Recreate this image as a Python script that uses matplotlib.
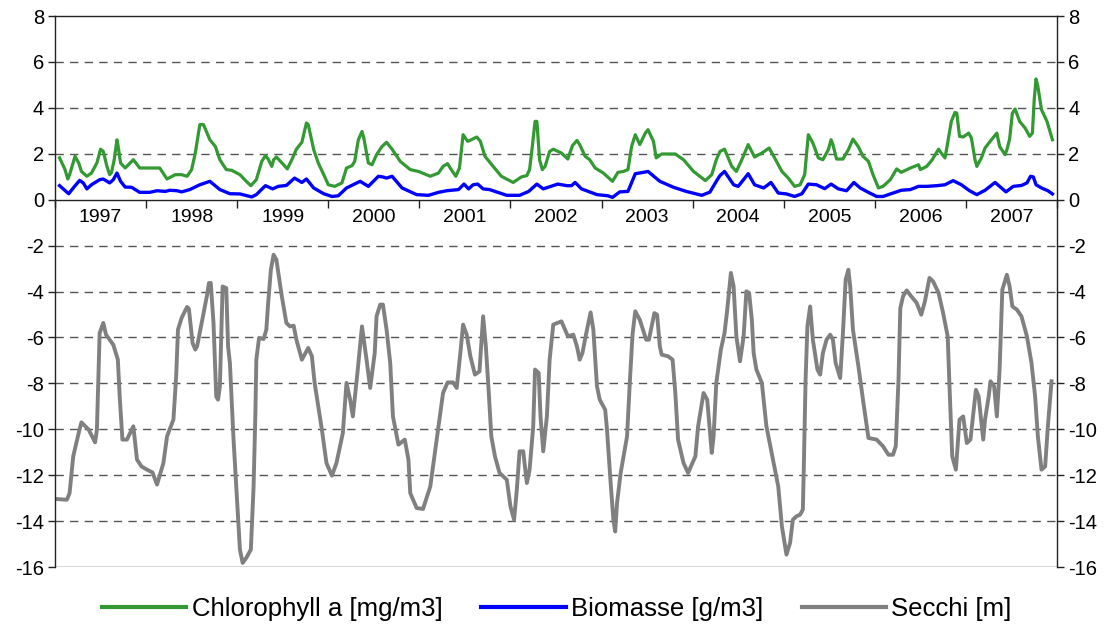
import matplotlib
matplotlib.use("Agg")
import matplotlib.pyplot as plt
from matplotlib.ticker import FixedLocator, NullFormatter

plt.rcParams['font.family'] = ['Liberation Sans', 'DejaVu Sans']

# Chlorophyll a [mg/m3]
chl_t = [1997.05, 1997.11, 1997.14, 1997.16, 1997.22, 1997.26, 1997.29, 1997.35, 1997.40, 1997.46,
         1997.50, 1997.53, 1997.57, 1997.60, 1997.62, 1997.65, 1997.68, 1997.69, 1997.72, 1997.77,
         1997.86, 1997.93, 1998.15, 1998.23, 1998.32, 1998.39, 1998.45, 1998.50, 1998.54, 1998.59,
         1998.63, 1998.70, 1998.76, 1998.81, 1998.88, 1998.94, 1999.03, 1999.10, 1999.15, 1999.21,
         1999.27, 1999.31, 1999.34, 1999.38, 1999.40, 1999.43, 1999.51, 1999.55, 1999.60, 1999.65,
         1999.71, 1999.76, 1999.78, 1999.84, 1999.89, 1999.95, 2000.00, 2000.07, 2000.15, 2000.20,
         2000.26, 2000.29, 2000.33, 2000.37, 2000.39, 2000.44, 2000.48, 2000.53, 2000.59, 2000.64,
         2000.70, 2000.79, 2000.90, 2000.99, 2001.12, 2001.21, 2001.26, 2001.31, 2001.35, 2001.40,
         2001.44, 2001.48, 2001.53, 2001.57, 2001.63, 2001.67, 2001.72, 2001.81, 2001.90, 2002.03,
         2002.12, 2002.18, 2002.21, 2002.24, 2002.27, 2002.29, 2002.32, 2002.35, 2002.38, 2002.43,
         2002.47, 2002.56, 2002.63, 2002.68, 2002.73, 2002.76, 2002.82, 2002.87, 2002.93, 2003.02,
         2003.12, 2003.18, 2003.24, 2003.29, 2003.33, 2003.37, 2003.42, 2003.48, 2003.51, 2003.57,
         2003.60, 2003.66, 2003.81, 2003.90, 2004.01, 2004.14, 2004.21, 2004.26, 2004.30, 2004.35,
         2004.43, 2004.48, 2004.54, 2004.61, 2004.68, 2004.76, 2004.84, 2004.90, 2004.98, 2005.05,
         2005.12, 2005.18, 2005.23, 2005.27, 2005.32, 2005.38, 2005.43, 2005.49, 2005.52, 2005.54,
         2005.58, 2005.65, 2005.71, 2005.76, 2005.82, 2005.87, 2005.93, 2005.98, 2006.04, 2006.09,
         2006.17, 2006.24, 2006.29, 2006.39, 2006.48, 2006.50, 2006.57, 2006.63, 2006.70, 2006.73,
         2006.77, 2006.79, 2006.84, 2006.88, 2006.90, 2006.93, 2006.97, 2007.03, 2007.06, 2007.10,
         2007.12, 2007.17, 2007.21, 2007.28, 2007.34, 2007.37, 2007.43, 2007.45, 2007.48, 2007.51,
         2007.54, 2007.59, 2007.65, 2007.70, 2007.73, 2007.75, 2007.77, 2007.79, 2007.83, 2007.89,
         2007.95]
chl_v = [1.82, 1.31, 0.90, 1.09, 1.89, 1.60, 1.23, 1.02, 1.16, 1.60,
         2.20, 2.10, 1.45, 1.09, 1.18, 1.74, 2.61, 2.40, 1.60, 1.38,
         1.74, 1.38, 1.38, 0.90, 1.09, 1.09, 1.02, 1.31, 2.03, 3.27,
         3.27, 2.61, 2.32, 1.74, 1.31, 1.28, 1.09, 0.80, 0.61, 0.87,
         1.67, 1.92, 1.77, 1.45, 1.74, 1.86, 1.52, 1.34, 1.74, 2.20,
         2.50, 3.34, 3.27, 2.18, 1.60, 1.09, 0.65, 0.58, 0.73, 1.38,
         1.48, 1.67, 2.61, 2.97, 2.69, 1.60, 1.52, 1.96, 2.32, 2.50,
         2.20, 1.67, 1.31, 1.23, 1.02, 1.16, 1.45, 1.57, 1.31, 1.02,
         1.38, 2.83, 2.54, 2.61, 2.73, 2.54, 1.89, 1.45, 1.02, 0.75,
         0.99, 1.05, 1.31, 2.32, 3.41, 3.41, 1.74, 1.31, 1.45, 2.10,
         2.20, 2.03, 1.77, 2.35, 2.58, 2.40, 1.89, 1.74, 1.38, 1.16,
         0.80, 1.19, 1.23, 1.31, 2.32, 2.83, 2.40, 2.90, 3.05, 2.54,
         1.82, 1.99, 1.99, 1.74, 1.23, 0.83, 1.09, 1.74, 2.10, 2.20,
         1.45, 1.23, 1.74, 2.40, 1.86, 2.03, 2.25, 1.82, 1.23, 0.94,
         0.58, 0.65, 1.09, 2.83, 2.47, 1.82, 1.74, 2.18, 2.61, 2.40,
         1.77, 1.77, 2.18, 2.64, 2.30, 1.89, 1.67, 1.09, 0.51, 0.58,
         0.87, 1.34, 1.19, 1.38, 1.52, 1.31, 1.45, 1.74, 2.20, 2.03,
         1.82, 2.25, 3.41, 3.80, 3.77, 2.76, 2.73, 2.90, 2.69, 1.74,
         1.45, 1.82, 2.25, 2.61, 2.90, 2.32, 1.96, 2.18, 2.64, 3.77,
         3.95, 3.41, 3.12, 2.76, 2.90, 4.36, 5.26, 4.93, 3.92, 3.41,
         2.61]

# Biomasse [g/m3]
bio_t = [1997.05, 1997.15, 1997.20, 1997.27, 1997.31, 1997.35, 1997.40, 1997.49, 1997.53, 1997.60,
         1997.64, 1997.68, 1997.72, 1997.77, 1997.84, 1997.93, 1998.04, 1998.12, 1998.21, 1998.26,
         1998.34, 1998.39, 1998.48, 1998.59, 1998.70, 1998.81, 1998.92, 1999.03, 1999.16, 1999.21,
         1999.31, 1999.39, 1999.45, 1999.54, 1999.63, 1999.71, 1999.76, 1999.84, 1999.95, 2000.04,
         2000.11, 2000.20, 2000.35, 2000.44, 2000.55, 2000.60, 2000.64, 2000.70, 2000.81, 2000.97,
         2001.10, 2001.21, 2001.30, 2001.43, 2001.49, 2001.54, 2001.59, 2001.64, 2001.70, 2001.77,
         2001.96, 2002.10, 2002.20, 2002.29, 2002.36, 2002.52, 2002.62, 2002.67, 2002.71, 2002.78,
         2002.95, 2003.07, 2003.12, 2003.20, 2003.29, 2003.37, 2003.46, 2003.51, 2003.64, 2003.79,
         2003.93, 2004.10, 2004.19, 2004.26, 2004.30, 2004.35, 2004.45, 2004.50, 2004.61, 2004.68,
         2004.78, 2004.86, 2004.94, 2005.03, 2005.12, 2005.20, 2005.27, 2005.36, 2005.45, 2005.52,
         2005.60, 2005.69, 2005.77, 2005.84, 2005.91, 2006.02, 2006.09, 2006.20, 2006.29, 2006.39,
         2006.48, 2006.57, 2006.68, 2006.77, 2006.86, 2006.95, 2007.04, 2007.12, 2007.21, 2007.32,
         2007.37, 2007.44, 2007.52, 2007.61, 2007.67, 2007.71, 2007.74, 2007.77, 2007.83, 2007.90,
         2007.95]
bio_v = [0.61, 0.26, 0.51, 0.84, 0.73, 0.47, 0.65, 0.87, 0.90, 0.73,
         0.87, 1.16, 0.80, 0.55, 0.54, 0.32, 0.32, 0.39, 0.36, 0.41,
         0.39, 0.34, 0.44, 0.65, 0.80, 0.44, 0.26, 0.25, 0.12, 0.22,
         0.61, 0.47, 0.58, 0.62, 0.94, 0.75, 0.90, 0.51, 0.26, 0.14,
         0.17, 0.51, 0.80, 0.58, 1.02, 0.99, 0.94, 1.02, 0.51, 0.22,
         0.19, 0.32, 0.39, 0.44, 0.68, 0.47, 0.65, 0.68, 0.47, 0.44,
         0.19, 0.19, 0.36, 0.68, 0.47, 0.68, 0.61, 0.61, 0.75, 0.47,
         0.22, 0.17, 0.10, 0.34, 0.36, 1.13, 1.19, 1.23, 0.80, 0.54,
         0.36, 0.19, 0.33, 0.80, 1.05, 1.23, 0.65, 0.58, 1.13, 0.65,
         0.51, 0.75, 0.29, 0.25, 0.14, 0.26, 0.68, 0.65, 0.48, 0.68,
         0.47, 0.39, 0.75, 0.51, 0.36, 0.14, 0.14, 0.29, 0.41, 0.44,
         0.58, 0.58, 0.61, 0.65, 0.83, 0.65, 0.39, 0.22, 0.41, 0.75,
         0.58, 0.34, 0.58, 0.62, 0.73, 1.02, 0.99, 0.65, 0.51, 0.39,
         0.25]

# Secchi [m] (plotted as negative depth)
sec_t = [1997.02, 1997.13, 1997.16, 1997.20, 1997.26, 1997.29, 1997.37, 1997.44, 1997.46, 1997.48,
         1997.49, 1997.53, 1997.56, 1997.64, 1997.69, 1997.71, 1997.74, 1997.79, 1997.86, 1997.90,
         1997.95, 1998.01, 1998.07, 1998.12, 1998.19, 1998.23, 1998.30, 1998.33, 1998.35, 1998.39,
         1998.45, 1998.47, 1998.51, 1998.54, 1998.56, 1998.61, 1998.67, 1998.69, 1998.71, 1998.74,
         1998.77, 1998.79, 1998.81, 1998.84, 1998.88, 1998.90, 1998.92, 1998.96, 1999.00, 1999.03,
         1999.06, 1999.10, 1999.15, 1999.18, 1999.20, 1999.21, 1999.24, 1999.29, 1999.32, 1999.34,
         1999.37, 1999.40, 1999.43, 1999.49, 1999.54, 1999.58, 1999.62, 1999.65, 1999.71, 1999.78,
         1999.82, 1999.85, 1999.93, 1999.98, 2000.04, 2000.09, 2000.16, 2000.20, 2000.24, 2000.27,
         2000.32, 2000.37, 2000.38, 2000.42, 2000.46, 2000.51, 2000.53, 2000.57, 2000.60, 2000.64,
         2000.68, 2000.71, 2000.77, 2000.84, 2000.88, 2000.90, 2000.97, 2001.04, 2001.12, 2001.21,
         2001.26, 2001.31, 2001.37, 2001.41, 2001.45, 2001.48, 2001.52, 2001.56, 2001.61, 2001.66,
         2001.70, 2001.73, 2001.76, 2001.79, 2001.83, 2001.88, 2001.96, 2002.00, 2002.04, 2002.07,
         2002.10, 2002.14, 2002.18, 2002.21, 2002.25, 2002.27, 2002.31, 2002.33, 2002.36, 2002.40,
         2002.43, 2002.47, 2002.56, 2002.63, 2002.69, 2002.73, 2002.76, 2002.79, 2002.84, 2002.88,
         2002.91, 2002.95, 2002.98, 2003.04, 2003.06, 2003.10, 2003.13, 2003.15, 2003.17, 2003.21,
         2003.28, 2003.31, 2003.34, 2003.37, 2003.42, 2003.49, 2003.52, 2003.58, 2003.61, 2003.64,
         2003.66, 2003.73, 2003.78, 2003.81, 2003.84, 2003.90, 2003.95, 2004.03, 2004.06, 2004.12,
         2004.16, 2004.21, 2004.23, 2004.26, 2004.31, 2004.35, 2004.38, 2004.42, 2004.45, 2004.48,
         2004.52, 2004.56, 2004.59, 2004.62, 2004.65, 2004.67, 2004.70, 2004.76, 2004.81, 2004.89,
         2004.94, 2004.98, 2005.03, 2005.07, 2005.10, 2005.14, 2005.18, 2005.21, 2005.22, 2005.24,
         2005.26, 2005.29, 2005.32, 2005.37, 2005.40, 2005.43, 2005.47, 2005.51, 2005.54, 2005.57,
         2005.62, 2005.65, 2005.68, 2005.71, 2005.73, 2005.76, 2005.82, 2005.87, 2005.93, 2006.02,
         2006.09, 2006.15, 2006.20, 2006.23, 2006.26, 2006.28, 2006.31, 2006.35, 2006.40, 2006.46,
         2006.51, 2006.55, 2006.60, 2006.64, 2006.70, 2006.75, 2006.80, 2006.82, 2006.85, 2006.89,
         2006.93, 2006.97, 2007.01, 2007.05, 2007.11, 2007.14, 2007.19, 2007.21, 2007.25, 2007.27,
         2007.31, 2007.34, 2007.37, 2007.40, 2007.45, 2007.48, 2007.51, 2007.56, 2007.61, 2007.67,
         2007.72, 2007.76, 2007.79, 2007.83, 2007.87, 2007.90, 2007.94]
sec_v = [-13.04, -13.07, -12.78, -11.18, -10.16, -9.70, -10.02, -10.57, -10.02, -7.11,
         -5.81, -5.37, -5.88, -6.32, -6.97, -8.57, -10.45, -10.45, -9.87, -11.32,
         -11.62, -11.76, -11.88, -12.41, -11.47, -10.31, -9.58, -7.70, -5.66, -5.15,
         -4.67, -4.76, -6.24, -6.53, -6.39, -5.37, -4.14, -3.63, -3.63, -5.37,
         -8.57, -8.71, -8.13, -3.78, -3.85, -6.39, -7.11, -10.45, -13.21, -15.24,
         -15.82, -15.60, -15.24, -12.49, -9.29, -6.97, -6.02, -6.07, -5.66, -4.50,
         -3.05, -2.40, -2.61, -4.21, -5.37, -5.52, -5.49, -6.10, -6.97, -6.46,
         -6.82, -7.98, -10.02, -11.47, -12.02, -11.47, -10.16, -7.98, -8.71, -9.44,
         -7.55, -5.52, -5.81, -6.97, -8.20, -6.68, -5.08, -4.57, -4.57, -5.66,
         -7.11, -9.44, -10.67, -10.45, -11.32, -12.78, -13.43, -13.47, -12.49, -9.87,
         -8.42, -7.96, -7.96, -8.20, -6.68, -5.44, -5.88, -6.82, -7.62, -7.48,
         -5.08, -6.39, -8.28, -10.31, -11.18, -11.90, -12.20, -13.36, -13.94, -12.63,
         -10.96, -10.96, -12.34, -11.76, -9.87, -7.40, -7.55, -9.44, -10.96, -9.44,
         -6.97, -5.44, -5.30, -5.95, -5.88, -6.39, -6.97, -6.68, -5.66, -4.91,
         -5.66, -8.13, -8.71, -9.15, -10.02, -12.34, -13.94, -14.45, -13.21, -11.90,
         -10.31, -7.98, -5.88, -4.86, -5.23, -6.10, -6.10, -4.94, -5.01, -6.39,
         -6.75, -6.82, -6.97, -8.42, -10.45, -11.47, -11.90, -11.18, -9.87, -8.42,
         -8.71, -11.03, -10.31, -7.98, -6.53, -5.81, -4.79, -3.19, -3.78, -5.95,
         -7.04, -5.95, -3.99, -4.06, -5.23, -6.68, -7.40, -7.98, -9.87, -11.47,
         -12.49, -14.23, -15.46, -14.95, -13.94, -13.79, -13.72, -13.50, -11.76, -7.84,
         -5.52, -4.65, -6.10, -7.40, -7.62, -6.68, -6.10, -5.88, -6.10, -7.11,
         -7.77, -5.81, -3.48, -3.05, -3.78, -5.66, -7.26, -8.71, -10.38, -10.45,
         -10.74, -11.11, -11.11, -10.74, -7.84, -4.72, -4.21, -3.95, -4.21, -4.50,
         -5.01, -4.43, -3.41, -3.56, -4.06, -4.94, -5.95, -8.13, -11.18, -11.76,
         -9.58, -9.44, -10.60, -10.45, -8.28, -8.57, -10.45, -9.58, -8.57, -7.91,
         -8.13, -9.44, -7.40, -3.92, -3.27, -3.78, -4.65, -4.79, -5.08, -5.95,
         -7.11, -8.57, -10.31, -11.76, -11.62, -9.87, -7.91]

years = list(range(1997, 2008))
y_ticks = list(range(-16, 9, 2))

fig = plt.figure(figsize=(11.09, 6.28), dpi=100)
ax = fig.add_axes([0.0496, 0.0971, 0.9035, 0.8774])

ax.plot(chl_t, chl_v, color='#339933', lw=2.3, label='Chlorophyll a [mg/m3]', solid_joinstyle='round')
ax.plot(bio_t, bio_v, color='#0000ff', lw=2.4, label='Biomasse [g/m3]', solid_joinstyle='round')
ax.plot(sec_t, sec_v, color='#808080', lw=2.8, label='Secchi [m]', solid_joinstyle='round')

ax.set_xlim(1997, 2008)
ax.set_ylim(-16, 8)

# horizontal dashed grid
for v in y_ticks:
    if v in (-16, 0, 8):
        continue
    ax.axhline(v, color='#555555', lw=1.0, ls=(0, (6, 4.5)), zorder=0)
ax.axhline(-16, color='#333333', lw=1.0, zorder=0)

# time axis drawn through zero
ax.spines['bottom'].set_position(('data', 0))
for s in ('left', 'right', 'top', 'bottom'):
    ax.spines[s].set_color('#222222')
    ax.spines[s].set_linewidth(1.0)

ax.xaxis.set_major_locator(FixedLocator(list(range(1997, 2009))))
ax.xaxis.set_major_formatter(NullFormatter())
ax.xaxis.set_minor_locator(FixedLocator([y + 0.5 for y in years]))
ax.set_xticklabels([str(y) for y in years], minor=True)
ax.tick_params(axis='x', which='major', direction='out', length=5.5, width=1.0, color='#222222')
ax.tick_params(axis='x', which='minor', length=0, pad=7, labelsize=14)

ax.set_yticks(y_ticks)
ax.set_yticklabels([str(v) for v in y_ticks])
ax.tick_params(axis='y', which='major', direction='out', length=5, width=1.0, color='#222222',
               left=True, right=True, labelleft=True, labelright=True, labelsize=14.5, pad=3)

leg = fig.legend(loc='center', bbox_to_anchor=(0.502, 0.031), ncol=3, frameon=False,
                 fontsize=18.5, handlelength=3.3, handletextpad=0.2, columnspacing=1.5)
for line in leg.get_lines():
    line.set_linewidth(3)

fig.savefig('out.png', dpi=100)
